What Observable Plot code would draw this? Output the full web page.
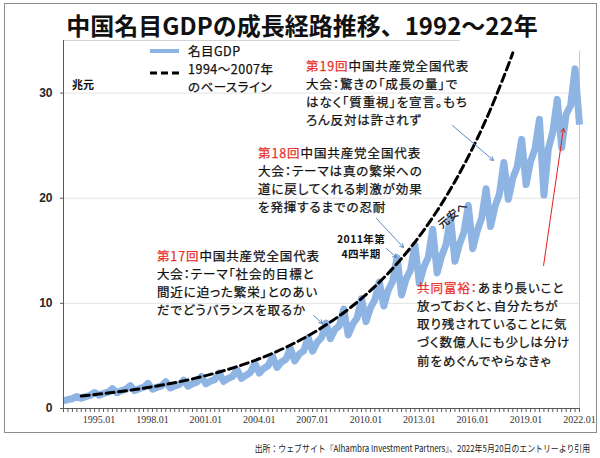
<!DOCTYPE html>
<html>
<head>
<meta charset="utf-8">
<script src="https://cdn.jsdelivr.net/npm/d3@7"></script>
<script src="https://cdn.jsdelivr.net/npm/@observablehq/plot@0.6"></script>
<style>
html, body { margin: 0; padding: 0; background: #fff; }
#wrap { position: relative; width: 600px; height: 458px; overflow: hidden; background: #fff;
  font-family: "Noto Sans CJK JP", "Noto Sans", sans-serif; }
#frame { position: absolute; left: 4px; top: 3px; width: 591px; height: 428px; border: 1px solid #8c8c8c; pointer-events: none; }
#chart { position: absolute; left: 0; top: 0; }
.t { position: absolute; font-size: 12.5px; line-height: 18.2px; letter-spacing: 0.9px; color: #111; white-space: nowrap; font-feature-settings: "palt"; -webkit-text-stroke: 0.25px currentColor; }
.r { color: #e8322c; }
#title { position: absolute; left: 0; width: 604px; top: 8px; text-align: center; font-size: 24px; font-weight: bold; line-height: 34px; color: #111; }
#caption { position: absolute; right: 10px; top: 441px; font-size: 9.5px; line-height: 14px; color: #222; white-space: nowrap; transform: scaleX(0.83); transform-origin: right center; }
</style>
</head>
<body>
<div id="wrap">
  <div id="chart"></div>
  <div id="frame"></div>
  <div id="title">中国名目GDPの成長経路推移、1992～22年</div>
  <div id="caption">出所：ウェブサイト『Alhambra Investment Partners』、2022年5月20日のエントリーより引用</div>
</div>
<script>
// ---- data ----
const gdpYears = [1993,1994,1995,1996,1997,1998,1999,2000,2001,2002,2003,2004,2005,2006,2007,2008,2009,2010,2011,2012,2013,2014,2015,2016,2017,2018,2019,2020,2021,2022];
const gdpQ1 = [0.72,0.98,1.26,1.50,1.70,1.83,1.95,2.13,2.35,2.57,2.87,3.36,3.90,4.52,5.45,6.63,6.99,8.26,9.75,10.80,11.90,12.90,14.00,15.20,17.30,19.90,21.30,20.30,24.80,27.00];
const gdpQ2 = [0.85,1.13,1.43,1.69,1.88,2.02,2.14,2.36,2.60,2.86,3.15,3.81,4.42,5.18,6.30,7.50,8.00,9.57,11.24,12.30,13.45,14.50,15.60,16.90,19.20,21.90,23.50,24.70,28.00,null];
const gdpQ3 = [0.93,1.24,1.55,1.83,2.00,2.13,2.27,2.50,2.75,3.04,3.42,4.06,4.68,5.49,6.72,7.86,8.62,10.36,12.10,13.15,14.40,15.60,16.75,18.10,20.40,23.00,24.70,26.30,28.80,null];
const gdpQ4 = [1.15,1.52,1.89,2.17,2.39,2.54,2.70,3.04,3.39,3.70,4.30,4.95,5.73,6.75,8.12,9.45,10.45,12.03,14.35,15.55,17.05,18.20,19.30,20.90,23.40,25.60,27.50,29.40,32.30,null];

const baselineYears = [1994,1995,1996,1997,1998,1999,2000,2001,2002,2003,2004,2005,2006,2007,2008,2009,2010,2011,2012,2013,2014,2015,2016,2017,2018,2018.25];
const baselineValues = [1.19,1.37,1.57,1.80,2.07,2.37,2.72,3.13,3.59,4.12,4.73,5.43,6.24,7.16,8.22,9.43,10.83,12.43,14.27,16.38,18.81,21.59,24.79,28.46,32.67,33.82];

const xTickLabels = ["1995.01","1998.01","2001.01","2004.01","2007.01","2010.01","2013.01","2016.01","2019.01","2022.01"];
const yTicks = [0, 10, 20, 30];

// ---- tables built from the arrays ----
const gdp = [];
gdpYears.forEach((yr, i) => {
  [gdpQ1[i], gdpQ2[i], gdpQ3[i], gdpQ4[i]].forEach((v, q) => {
    if (v != null) gdp.push({t: yr + q / 4, v});
  });
});
const baseline = baselineYears.map((t, i) => ({t, v: baselineValues[i]}));
const labelMap = new Map(xTickLabels.map(s => {
  const [y, m] = s.split(".");
  return [(+y) + (+m - 1) / 12, s];
}));
const labelTicks = [...labelMap.keys()];
const quarterTicks = d3.range(gdpYears[0], gdpYears[gdpYears.length - 1] + 0.001, 0.25);

// annotation arrows (data coordinates)
const arrows = [
  {x1: 2014.86, y1: 26.92, x2: 2017.17, y2: 23.59, c: "#5a8ac6"},
  {x1: 2010.59, y1: 18.07, x2: 2012.11, y2: 15.31, c: "#5a8ac6"},
  {x1: 2011.15, y1: 15.22, x2: 2011.72, y2: 14.36, c: "#5a8ac6"},
  {x1: 2007.05, y1: 8.85,  x2: 2007.56, y2: 8.08,  c: "#5a8ac6"},
  {x1: 2019.98, y1: 13.60, x2: 2021.10, y2: 26.63, c: "#e02020"}
];

const chart = Plot.plot({
  width: 600,
  height: 440,
  marginLeft: 63,
  marginRight: 21,
  marginTop: 40,
  marginBottom: 32,
  style: {background: "transparent", fontFamily: "'Liberation Sans', Arial, sans-serif"},
  x: {domain: [1993, 2022]},
  y: {domain: [0, 35]},
  marks: [
    Plot.gridY([10, 20, 30], {stroke: "#e4e4e4", strokeOpacity: 1}),
    Plot.ruleY([35], {x1: 1993, x2: 2015.3, stroke: "#d4d4d4"}),
    Plot.ruleX([2022], {y1: 0, y2: 34, stroke: "#c8c8c8"}),
    Plot.line(gdp, {x: "t", y: "v", stroke: "#8EB4E3", strokeWidth: 7, strokeLinejoin: "round", strokeLinecap: "butt"}),
    Plot.line(baseline, {x: "t", y: "v", stroke: "#000", strokeWidth: 3, strokeDasharray: "8,4.5", curve: "catmull-rom"}),
    Plot.ruleY([0], {stroke: "#595959"}),
    Plot.ruleX([1993], {stroke: "#595959"}),
    Plot.axisX({ticks: quarterTicks, tickSize: 4, tickFormat: () => "", stroke: "#595959", label: null}),
    Plot.axisX({ticks: labelTicks, tickSize: 0, tickPadding: 7, tickFormat: d => labelMap.get(d), fontFamily: "'Liberation Serif', serif", fontSize: 10, fill: "#333", label: null}),
    Plot.axisY({ticks: yTicks, tickSize: 3, tickPadding: 8, fontSize: 12, fontWeight: "bold", fill: "#262626", stroke: "#595959", label: null}),
    Plot.arrow(arrows, {x1: "x1", y1: "y1", x2: "x2", y2: "y2", stroke: "c", strokeWidth: 1, headLength: 6, insetStart: 0, insetEnd: 0})
  ]
});
document.getElementById("chart").appendChild(chart);

const sx = chart.scale("x"), sy = chart.scale("y");
const wrap = document.getElementById("wrap");

// text annotations anchored in data coordinates
const notes = [
  {x: 2006.66, y: 33.40, html: '<span class="r">第19回</span>中国共産党全国代表<br>大会：驚きの「成長の量」で<br>はなく「質重視」を宣言。もち<br>ろん反対は許されず'},
  {x: 2003.96, y: 25.12, html: '<span class="r">第18回</span>中国共産党全国代表<br>大会：テーマは真の繁栄への<br>道に戻してくれる刺激が効果<br>を発揮するまでの忍耐'},
  {x: 1998.28, y: 15.33, html: '<span class="r">第17回</span>中国共産党全国代表<br>大会：テーマ「社会的目標と<br>間近に迫った繁栄」とのあい<br>だでどうバランスを取るか'},
  {x: 2012.90, y: 12.28, html: '<span class="r">共同富裕：</span>あまり長いこと<br>放っておくと、自分たちが<br>取り残されていることに気<br>づく数億人にも少しは分け<br>前をめぐんでやらなきゃ'}
];
notes.forEach(n => {
  const d = document.createElement("div");
  d.className = "t";
  d.style.left = sx.apply(n.x) + "px";
  d.style.top = sy.apply(n.y) + "px";
  d.innerHTML = n.html;
  wrap.appendChild(d);
});

// 2011 Q4 label (centered)
{
  const d = document.createElement("div");
  d.className = "t";
  d.style.fontSize = "10.5px";
  d.style.fontWeight = "bold";
  d.style.letterSpacing = "0.4px";
  d.style.lineHeight = "15.4px";
  d.style.textAlign = "center";
  d.style.width = "70px";
  d.style.webkitTextStroke = "0";
  d.style.left = (sx.apply(2009.75) - 35) + "px";
  d.style.top = (sy.apply(16.83) - 0.5) + "px";
  d.innerHTML = "2011年第<br>4四半期";
  wrap.appendChild(d);
}
// 元安へ rotated
{
  const d = document.createElement("div");
  d.className = "t";
  d.style.fontSize = "11px";
  d.style.letterSpacing = "0.5px";
  d.style.lineHeight = "16px";
  d.style.left = sx.apply(2014.85) + "px";
  d.style.top = sy.apply(18.45) + "px";
  d.style.transform = "translate(-50%,-50%) rotate(-40deg)";
  d.textContent = "元安へ";
  wrap.appendChild(d);
}

// legend and unit label
const lg = document.createElement("div");
lg.innerHTML = `
  <div style="position:absolute;left:150px;top:49px;width:29px;height:4px;background:#8EB4E3"></div>
  <svg style="position:absolute;left:150px;top:71px" width="30" height="4"><line x1="0" y1="2" x2="29" y2="2" stroke="#000" stroke-width="3" stroke-dasharray="7,4"/></svg>
  <div class="t" style="left:188px;top:42px;letter-spacing:0.5px">名目GDP</div>
  <div class="t" style="left:188px;top:59.5px;letter-spacing:0.5px">1994～2007年<br>のベースライン</div>
  <div class="t" style="left:72px;top:75px;font-size:11px;font-weight:bold;letter-spacing:0;-webkit-text-stroke:0">兆元</div>`;
wrap.appendChild(lg);
</script>
</body>
</html>
